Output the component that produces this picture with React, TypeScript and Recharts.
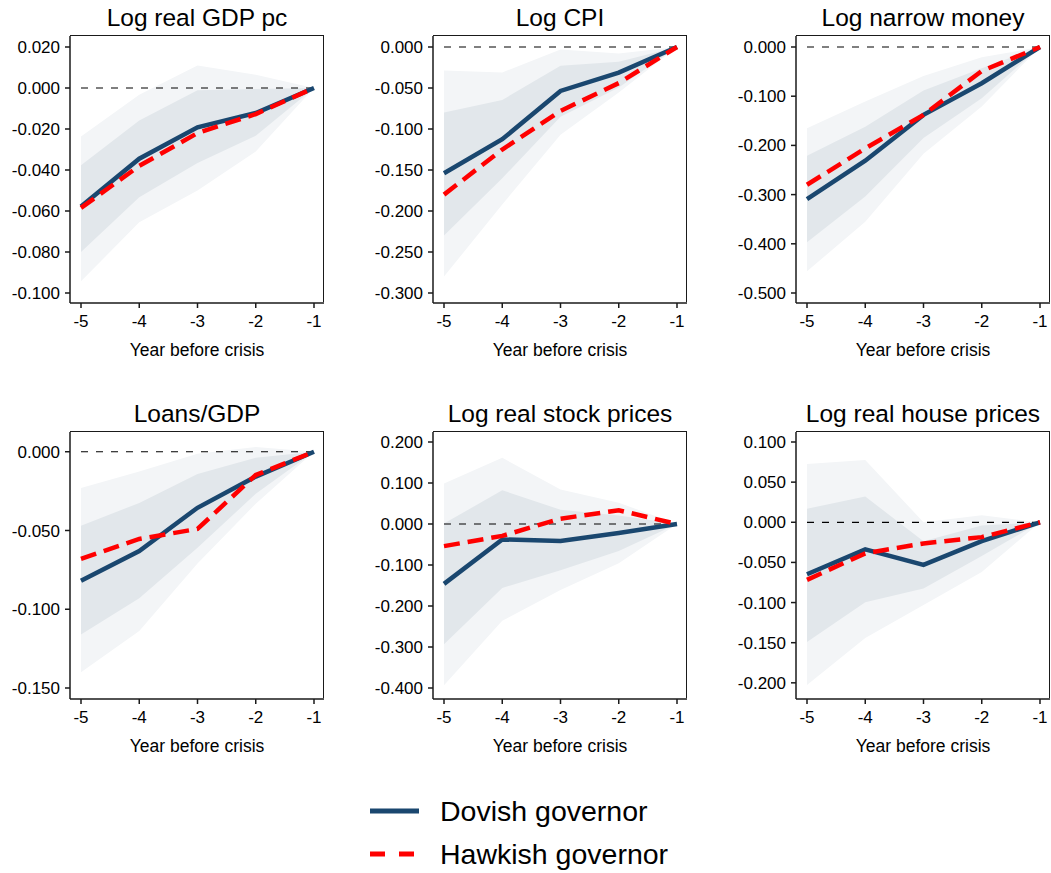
import React from "react";
import {
  ComposedChart,
  Area,
  Line,
  XAxis,
  YAxis,
  ReferenceLine,
  Label,
} from "recharts";

const FONT = '"Liberation Sans", Arial, Helvetica, sans-serif';
const NAVY = "#1a476f";
const RED = "#ff0000";
const OUTER_FILL = "#f3f5f7";
const INNER_FILL = "#e2e7eb";

const years = [-5, -4, -3, -2, -1];

// Log real GDP pc
const gdpDovish = [-0.0578, -0.0345, -0.0192, -0.0122, 0];
const gdpHawkish = [-0.0585, -0.038, -0.022, -0.0127, 0];
const gdpInnerLo = [-0.08, -0.0533, -0.0366, -0.0233, 0];
const gdpInnerHi = [-0.0377, -0.0158, -0.0011, -0.0005, 0];
const gdpOuterLo = [-0.0943, -0.0655, -0.05, -0.031, 0];
const gdpOuterHi = [-0.0236, -0.0033, 0.011, 0.0065, 0];
const gdpTicks = [0.02, 0, -0.02, -0.04, -0.06, -0.08, -0.1];

// Log CPI
const cpiDovish = [-0.154, -0.1125, -0.0536, -0.0313, 0];
const cpiHawkish = [-0.18, -0.125, -0.078, -0.044, 0];
const cpiInnerLo = [-0.23, -0.16, -0.085, -0.0495, 0];
const cpiInnerHi = [-0.08, -0.0646, -0.023, -0.018, 0];
const cpiOuterLo = [-0.28, -0.192, -0.107, -0.0556, 0];
const cpiOuterHi = [-0.0288, -0.031, -0.003, -0.008, 0];
const cpiTicks = [0, -0.05, -0.1, -0.15, -0.2, -0.25, -0.3];

// Log narrow money
const moneyDovish = [-0.309, -0.231, -0.138, -0.0737, 0];
const moneyHawkish = [-0.28, -0.206, -0.138, -0.0487, 0];
const moneyInnerLo = [-0.397, -0.304, -0.185, -0.104, 0];
const moneyInnerHi = [-0.221, -0.162, -0.0886, -0.043, 0];
const moneyOuterLo = [-0.456, -0.355, -0.217, -0.121, 0];
const moneyOuterHi = [-0.165, -0.111, -0.059, -0.021, 0];
const moneyTicks = [0, -0.1, -0.2, -0.3, -0.4, -0.5];

// Loans/GDP
const loansDovish = [-0.0819, -0.063, -0.0356, -0.0158, 0];
const loansHawkish = [-0.068, -0.0554, -0.049, -0.0148, 0];
const loansInnerLo = [-0.116, -0.093, -0.061, -0.0267, 0];
const loansInnerHi = [-0.047, -0.0325, -0.0142, -0.0038, 0];
const loansOuterLo = [-0.14, -0.1138, -0.071, -0.033, 0];
const loansOuterHi = [-0.023, -0.0125, -0.0013, 0.003, 0];
const loansTicks = [0, -0.05, -0.1, -0.15];

// Log real stock prices
const stockDovish = [-0.146, -0.0376, -0.0416, -0.022, 0];
const stockHawkish = [-0.054, -0.029, 0.013, 0.0335, 0];
const stockInnerLo = [-0.293, -0.156, -0.113, -0.066, 0];
const stockInnerHi = [0.001, 0.0824, 0.035, 0.021, 0];
const stockOuterLo = [-0.393, -0.236, -0.161, -0.0955, 0];
const stockOuterHi = [0.0988, 0.1616, 0.084, 0.052, 0];
const stockTicks = [0.2, 0.1, 0, -0.1, -0.2, -0.3, -0.4];

// Log real house prices
const houseDovish = [-0.0647, -0.0338, -0.053, -0.0235, 0];
const houseHawkish = [-0.0717, -0.0387, -0.0264, -0.0185, 0];
const houseInnerLo = [-0.149, -0.0997, -0.0824, -0.042, 0];
const houseInnerHi = [0.0169, 0.032, -0.0235, -0.004, 0];
const houseOuterLo = [-0.2027, -0.144, -0.103, -0.062, 0];
const houseOuterHi = [0.0725, 0.0775, 0, 0.0087, 0];
const houseTicks = [0.1, 0.05, 0, -0.05, -0.1, -0.15, -0.2];

type PanelCfg = {
  title: string;
  dovish: number[];
  hawkish: number[];
  innerLo: number[];
  innerHi: number[];
  outerLo: number[];
  outerHi: number[];
  ticks: number[];
  pad: { top: number; bottom: number };
  left: number;
  top: number;
};

const panels: PanelCfg[] = [
  { title: "Log real GDP pc", dovish: gdpDovish, hawkish: gdpHawkish, innerLo: gdpInnerLo, innerHi: gdpInnerHi, outerLo: gdpOuterLo, outerHi: gdpOuterHi, ticks: gdpTicks, pad: { top: 11, bottom: 10 }, left: 70, top: 36 },
  { title: "Log CPI", dovish: cpiDovish, hawkish: cpiHawkish, innerLo: cpiInnerLo, innerHi: cpiInnerHi, outerLo: cpiOuterLo, outerHi: cpiOuterHi, ticks: cpiTicks, pad: { top: 11, bottom: 10 }, left: 433, top: 36 },
  { title: "Log narrow money", dovish: moneyDovish, hawkish: moneyHawkish, innerLo: moneyInnerLo, innerHi: moneyInnerHi, outerLo: moneyOuterLo, outerHi: moneyOuterHi, ticks: moneyTicks, pad: { top: 11, bottom: 10 }, left: 796, top: 36 },
  { title: "Loans/GDP", dovish: loansDovish, hawkish: loansHawkish, innerLo: loansInnerLo, innerHi: loansInnerHi, outerLo: loansOuterLo, outerHi: loansOuterHi, ticks: loansTicks, pad: { top: 15, bottom: 11 }, left: 70, top: 432 },
  { title: "Log real stock prices", dovish: stockDovish, hawkish: stockHawkish, innerLo: stockInnerLo, innerHi: stockInnerHi, outerLo: stockOuterLo, outerHi: stockOuterHi, ticks: stockTicks, pad: { top: 10, bottom: 11 }, left: 433, top: 432 },
  { title: "Log real house prices", dovish: houseDovish, hawkish: houseHawkish, innerLo: houseInnerLo, innerHi: houseInnerHi, outerLo: houseOuterLo, outerHi: houseOuterHi, ticks: houseTicks, pad: { top: 10, bottom: 14 }, left: 796, top: 432 },
];

const CHART_W = 330;
const CHART_H = 373;
const AXIS_LEFT = 70;
const MARGIN_TOP = 36;
const PLOT_W = 254;
const PLOT_H = 267;

const tickStyle = { fill: "#000", fontSize: 17, fontFamily: FONT };
const frame = { stroke: "#1a1a1a", strokeWidth: 1.5 };

function Panel({ cfg }: { cfg: PanelCfg }) {
  const data = years.map((year, i) => ({
    year,
    dovish: cfg.dovish[i],
    hawkish: cfg.hawkish[i],
    inner: [cfg.innerLo[i], cfg.innerHi[i]],
    outer: [cfg.outerLo[i], cfg.outerHi[i]],
  }));
  const lo = Math.min(...cfg.ticks);
  const hi = Math.max(...cfg.ticks);

  return (
    <div
      style={{
        position: "absolute",
        left: cfg.left - AXIS_LEFT,
        top: cfg.top - MARGIN_TOP,
        width: CHART_W,
        height: CHART_H,
      }}
    >
      <div
        style={{
          position: "absolute",
          left: AXIS_LEFT - 30,
          width: PLOT_W + 60,
          top: 4,
          lineHeight: "28px",
          textAlign: "center",
          fontFamily: FONT,
          fontSize: 24.5,
          color: "#000",
          whiteSpace: "nowrap",
        }}
      >
        {cfg.title}
      </div>
      <ComposedChart
        width={CHART_W}
        height={CHART_H}
        data={data}
        margin={{ top: MARGIN_TOP, right: CHART_W - AXIS_LEFT - PLOT_W, bottom: 0, left: 0 }}
      >
        <XAxis
          dataKey="year"
          type="number"
          domain={[-5, -1]}
          ticks={years}
          padding={{ left: 11, right: 10 }}
          height={CHART_H - MARGIN_TOP - PLOT_H}
          tick={tickStyle}
          tickSize={5}
          tickMargin={7}
          tickLine={frame}
          axisLine={frame}
          interval={0}
        >
          <Label
            value="Year before crisis"
            position="insideBottom"
            offset={17}
            style={{ fill: "#000", fontSize: 17.5, fontFamily: FONT }}
          />
        </XAxis>
        <YAxis
          type="number"
          domain={[lo, hi]}
          ticks={cfg.ticks}
          padding={cfg.pad}
          width={AXIS_LEFT}
          tick={tickStyle}
          tickSize={5}
          tickMargin={5}
          tickLine={frame}
          axisLine={frame}
          interval={0}
          tickFormatter={(v: number) => (Math.abs(v) < 1e-9 ? "0.000" : v.toFixed(3))}
        />
        <Area
          dataKey="outer"
          type="linear"
          stroke="none"
          fill={OUTER_FILL}
          fillOpacity={1}
          dot={false}
          activeDot={false}
          isAnimationActive={false}
        />
        <Area
          dataKey="inner"
          type="linear"
          stroke="none"
          fill={INNER_FILL}
          fillOpacity={1}
          dot={false}
          activeDot={false}
          isAnimationActive={false}
        />
        <ReferenceLine
          segment={[
            { x: -5, y: 0 },
            { x: -1, y: 0 },
          ]}
          stroke="#000"
          strokeWidth={1.2}
          strokeDasharray="7 8"
        />
        <Line
          dataKey="dovish"
          type="linear"
          stroke={NAVY}
          strokeWidth={4.5}
          dot={false}
          activeDot={false}
          isAnimationActive={false}
        />
        <Line
          dataKey="hawkish"
          type="linear"
          stroke={RED}
          strokeWidth={4.5}
          strokeDasharray="16 8"
          dot={false}
          activeDot={false}
          isAnimationActive={false}
        />
      </ComposedChart>
      {/* top and right edges of the plot frame */}
      <div
        style={{
          position: "absolute",
          left: AXIS_LEFT,
          top: MARGIN_TOP - 0.75,
          width: PLOT_W,
          height: PLOT_H,
          borderTop: "1.5px solid #1a1a1a",
          borderRight: "1.5px solid #1a1a1a",
          boxSizing: "border-box",
          pointerEvents: "none",
        }}
      />
    </div>
  );
}

export default function App() {
  return (
    <div
      style={{
        position: "absolute",
        left: 0,
        top: 0,
        width: 1051,
        height: 873,
        background: "#fff",
        fontFamily: FONT,
      }}
    >
      {panels.map((p) => (
        <Panel key={p.title} cfg={p} />
      ))}
      <svg
        width={1051}
        height={100}
        style={{ position: "absolute", left: 0, top: 773 }}
      >
        <line x1={370} x2={419} y1={38} y2={38} stroke={NAVY} strokeWidth={5} />
        <text x={440} y={48} fontSize={28.5} fontFamily={FONT} fill="#000">
          Dovish governor
        </text>
        <line
          x1={370}
          x2={419}
          y1={81}
          y2={81}
          stroke={RED}
          strokeWidth={5}
          strokeDasharray="15 14"
        />
        <text x={440} y={91} fontSize={28.5} fontFamily={FONT} fill="#000">
          Hawkish governor
        </text>
      </svg>
    </div>
  );
}
